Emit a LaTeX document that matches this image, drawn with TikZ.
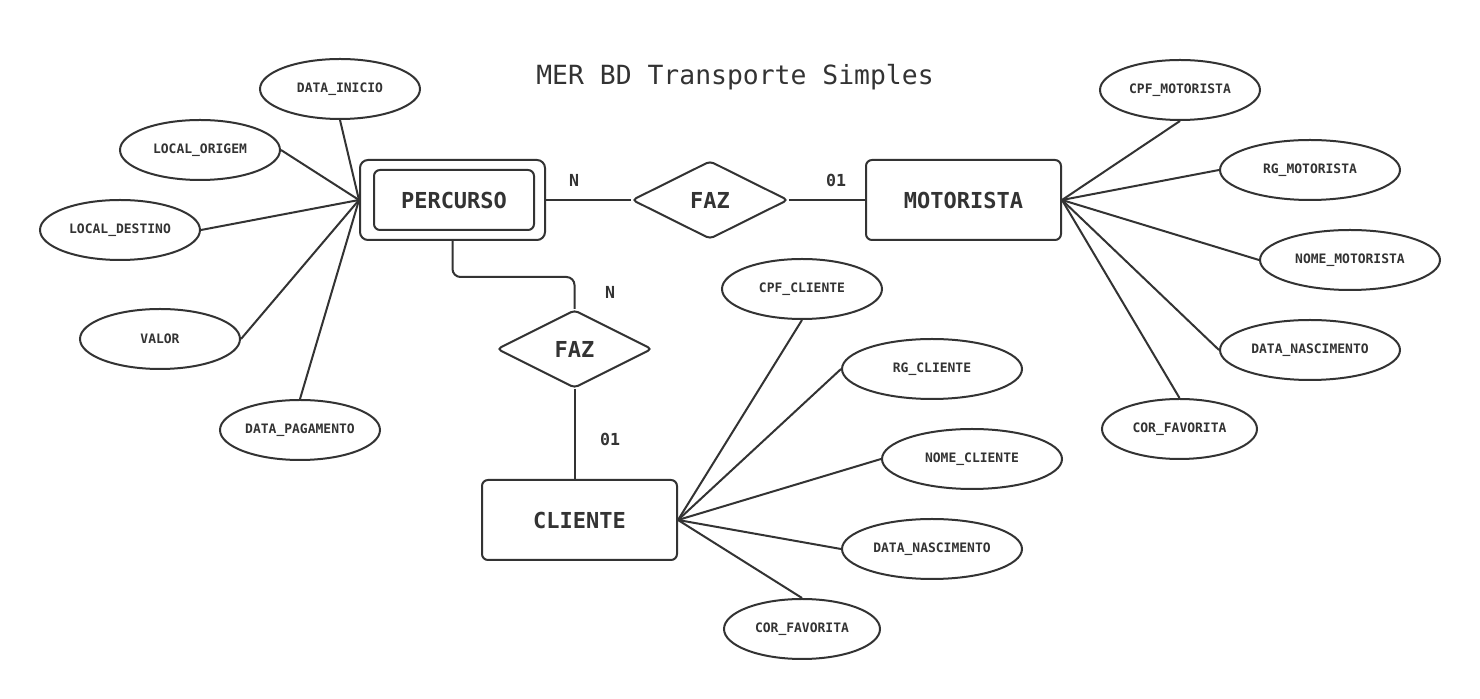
\documentclass[tikz,border=0pt]{standalone}
\usepackage{fontspec}
\setmainfont{DejaVu Sans Mono}
\usepackage{xcolor}
\usetikzlibrary{positioning, shapes.geometric}
\definecolor{inkgray}{HTML}{333333}

\tikzset{
  entity/.style={draw=inkgray, line width=1pt, rounded corners=3pt, text=inkgray, minimum width=97.5pt, minimum height=40pt, font=\bfseries\fontsize{11}{13}\selectfont},
  relation/.style={diamond, draw=inkgray, line width=1pt, rounded corners=2pt, text=inkgray, inner sep=0pt, minimum width=78pt, minimum height=39pt, font=\bfseries\fontsize{11}{13}\selectfont},
  attrib/.style={ellipse, draw=inkgray, line width=1pt, text=inkgray, inner sep=0pt, minimum width=80pt, minimum height=30pt, font=\bfseries\fontsize{6.5}{8}\selectfont},
  attribwide/.style={attrib, minimum width=90pt},
  card/.style={text=inkgray, inner sep=0pt, font=\bfseries\fontsize{8.3}{10}\selectfont},
  link/.style={draw=inkgray, line width=1pt}
}

\begin{document}
\begin{tikzpicture}[x=0.5pt, y=-0.5pt]
\fill[white] (0,0) rectangle (1480,699);
\useasboundingbox (0,0) rectangle (1480,699);

\node[text=inkgray, font=\fontsize{13.2}{15}\selectfont] (title) at (735,77) {MER BD Transporte Simples};

% entities
\node[entity, minimum width=92.5pt, rounded corners=4pt] (percursoOut) at (452.5,200) {};
\node[entity, minimum width=80pt, minimum height=30pt] (percurso) at (454,200) {PERCURSO};
\node[entity] (motorista) at (963.5,200) {MOTORISTA};
\node[entity] (cliente) at (579.5,520) {CLIENTE};

% relations
\node[relation] (fazTop) at (710,200) {FAZ};
\node[relation, minimum width=77.5pt] (fazLow) at (574.5,349) {FAZ};

% cardinalities
\node[card] (cardA) at (574,180) {N};
\node[card] (cardB) at (836,180) {01};
\node[card] (cardC) at (610,292) {N};
\node[card] (cardD) at (610,439) {01};

% percurso attributes
\node[attrib] (dataInicio) at (340,89) {DATA\_INICIO};
\node[attrib] (localOrigem) at (200,150) {LOCAL\_ORIGEM};
\node[attrib] (localDestino) at (120,230) {LOCAL\_DESTINO};
\node[attrib] (valor) at (160,339) {VALOR};
\node[attrib] (dataPagamento) at (300,430) {DATA\_PAGAMENTO};

% motorista attributes
\node[attrib] (cpfMotorista) at (1180,90) {CPF\_MOTORISTA};
\node[attribwide] (rgMotorista) at (1310,170) {RG\_MOTORISTA};
\node[attribwide] (nomeMotorista) at (1350,260) {NOME\_MOTORISTA};
\node[attribwide] (nascMotorista) at (1310,350) {DATA\_NASCIMENTO};
\node[attrib, minimum width=77.5pt] (corMotorista) at (1179.5,429) {COR\_FAVORITA};

% cliente attributes
\node[attrib] (cpfCliente) at (802,289) {CPF\_CLIENTE};
\node[attribwide] (rgCliente) at (932,369) {RG\_CLIENTE};
\node[attribwide] (nomeCliente) at (972,459) {NOME\_CLIENTE};
\node[attribwide] (nascCliente) at (932,549) {DATA\_NASCIMENTO};
\node[attrib, minimum width=78pt] (corCliente) at (802,629) {COR\_FAVORITA};

% relationship links
\draw[link] (percursoOut.east) -- (fazTop.west);
\draw[link] (fazTop.east) -- (motorista.west);
\draw[link, rounded corners=4pt] (percursoOut.south) -- ++(0,36) -| (fazLow.north);
\draw[link] (fazLow.south) -- (fazLow.south |- cliente.north);

% attribute links
\draw[link] (dataInicio.south) -- (percursoOut.west);
\draw[link] (localOrigem.east) -- (percursoOut.west);
\draw[link] (localDestino.east) -- (percursoOut.west);
\draw[link] (valor.east) -- (percursoOut.west);
\draw[link] (dataPagamento.north) -- (percursoOut.west);

\draw[link] (cpfMotorista.south) -- (motorista.east);
\draw[link] (rgMotorista.west) -- (motorista.east);
\draw[link] (nomeMotorista.west) -- (motorista.east);
\draw[link] (nascMotorista.west) -- (motorista.east);
\draw[link] (corMotorista.north) -- (motorista.east);

\draw[link] (cpfCliente.south) -- (cliente.east);
\draw[link] (rgCliente.west) -- (cliente.east);
\draw[link] (nomeCliente.west) -- (cliente.east);
\draw[link] (nascCliente.west) -- (cliente.east);
\draw[link] (corCliente.north) -- (cliente.east);
\end{tikzpicture}
\end{document}
